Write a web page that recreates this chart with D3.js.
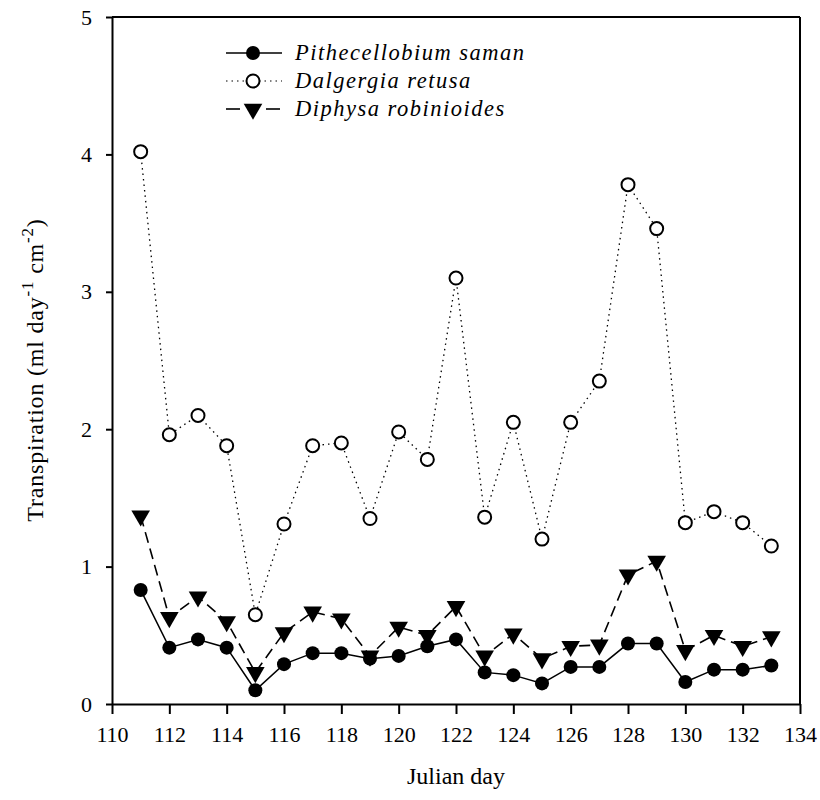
<!DOCTYPE html>
<html><head><meta charset="utf-8">
<script src="https://cdn.jsdelivr.net/npm/d3@7"></script>
<style>body{margin:0;background:#fff} text{font-family:"Liberation Serif","Times New Roman",Times,serif}</style>
</head><body>
<svg id="chart" width="820" height="800"></svg>
<script>
const days = [111,112,113,114,115,116,117,118,119,120,121,122,123,124,125,126,127,128,129,130,131,132,133];
const pithecellobium = [0.83,0.41,0.47,0.41,0.10,0.29,0.37,0.37,0.33,0.35,0.42,0.47,0.23,0.21,0.15,0.27,0.27,0.44,0.44,0.16,0.25,0.25,0.28];
const dalgergia = [4.02,1.96,2.10,1.88,0.65,1.31,1.88,1.90,1.35,1.98,1.78,3.10,1.36,2.05,1.20,2.05,2.35,3.78,3.46,1.32,1.40,1.32,1.15];
const diphysa = [1.37,0.63,0.78,0.60,0.23,0.52,0.67,0.62,0.35,0.56,0.50,0.71,0.35,0.51,0.33,0.42,0.43,0.94,1.04,0.39,0.50,0.42,0.49];
const xTicks = [110,112,114,116,118,120,122,124,126,128,130,132,134];
const yTicks = [0,1,2,3,4,5];
const seriesNames = ["Pithecellobium saman","Dalgergia retusa","Diphysa robinioides"];

const svg = d3.select("#chart");
const L = 112, R = 800, T = 17, B = 704;
const x = d3.scaleLinear().domain([110,134]).range([L,R]);
const y = d3.scaleLinear().domain([0,5]).range([B,T]);
const font = "'Liberation Serif','Times New Roman',Times,serif";

// frame top/right
svg.append("line").attr("x1",L).attr("x2",R).attr("y1",T).attr("y2",T).attr("stroke","#000").attr("stroke-width",2);
svg.append("line").attr("x1",R).attr("x2",R).attr("y1",T).attr("y2",B).attr("stroke","#000").attr("stroke-width",2);

const xAxis = svg.append("g").attr("transform",`translate(0,${B})`)
  .call(d3.axisBottom(x).tickValues(xTicks).tickFormat(d3.format("d")).tickSize(10).tickSizeOuter(0).tickPadding(12));
const yAxis = svg.append("g").attr("transform",`translate(${L},0)`)
  .call(d3.axisLeft(y).tickValues(yTicks).tickFormat(d3.format("d")).tickSize(6).tickSizeOuter(0).tickPadding(14));
[xAxis,yAxis].forEach(g=>{
  g.attr("font-family",font);
  g.selectAll("path,line").attr("stroke","#000").attr("stroke-width",2);
  g.selectAll("text").attr("font-family",font).attr("font-size",22).attr("fill","#000");
});
xAxis.selectAll("text").attr("dy","0.71em");

svg.append("text").attr("x",(L+R)/2).attr("y",784).attr("text-anchor","middle")
  .attr("font-family",font).attr("font-size",24).text("Julian day");

const yl = svg.append("text").attr("transform","translate(43,370) rotate(-90)").attr("text-anchor","middle")
  .attr("font-family",font).attr("font-size",24).attr("letter-spacing",0.8);
yl.append("tspan").text("Transpiration (ml day");
yl.append("tspan").attr("dy",-10).attr("font-size",17).text("-1");
yl.append("tspan").attr("dy",10).text(" cm");
yl.append("tspan").attr("dy",-10).attr("font-size",17).text("-2");
yl.append("tspan").attr("dy",10).text(")");

const line = d3.line().x((d,i)=>x(days[i])).y(d=>y(d));
const styles = [
  {data:pithecellobium, dash:null, width:1.5},
  {data:dalgergia, dash:"1.5,4", width:1.3},
  {data:diphysa, dash:"11,6", width:1.6}
];
styles.forEach(s=>{
  svg.append("path").datum(s.data).attr("d",line).attr("fill","none")
    .attr("stroke","#000").attr("stroke-width",s.width).attr("stroke-dasharray",s.dash);
});
const tri = d3.symbol().type(d3.symbolTriangle).size(150);
function marker(g,k,cx,cy){
  if(k===0) g.append("circle").attr("cx",cx).attr("cy",cy).attr("r",7).attr("fill","#000");
  else if(k===1) g.append("circle").attr("cx",cx).attr("cy",cy).attr("r",6.5).attr("fill","#fff").attr("stroke","#000").attr("stroke-width",2);
  else g.append("path").attr("d",tri).attr("transform",`translate(${cx},${cy}) rotate(180)`).attr("fill","#000");
}
const mg = svg.append("g");
[diphysa,pithecellobium,dalgergia].forEach(arr=>{
  const k = arr===pithecellobium?0:arr===dalgergia?1:2;
  arr.forEach((v,i)=>marker(mg,k,x(days[i]),y(v)));
});

// legend
const legY = [53,81,109];
seriesNames.forEach((n,k)=>{
  const g = svg.append("g");
  const ly = legY[k];
  if(k===0) g.append("line").attr("x1",226).attr("x2",282).attr("y1",ly).attr("y2",ly).attr("stroke","#000").attr("stroke-width",1.5);
  if(k===1) g.append("line").attr("x1",226).attr("x2",282).attr("y1",ly).attr("y2",ly).attr("stroke","#000").attr("stroke-width",1.2).attr("stroke-dasharray","1.5,4");
  if(k===2){
    g.append("line").attr("x1",226).attr("x2",240).attr("y1",ly).attr("y2",ly).attr("stroke","#000").attr("stroke-width",1.6);
    g.append("line").attr("x1",266).attr("x2",280).attr("y1",ly).attr("y2",ly).attr("stroke","#000").attr("stroke-width",1.6);
  }
  marker(g,k,253,ly);
  g.append("text").attr("x",295).attr("y",ly+7).attr("font-family",font).attr("font-style","italic")
    .attr("font-size",22.5).attr("letter-spacing",1.5).text(n);
});
</script>
</body></html>
